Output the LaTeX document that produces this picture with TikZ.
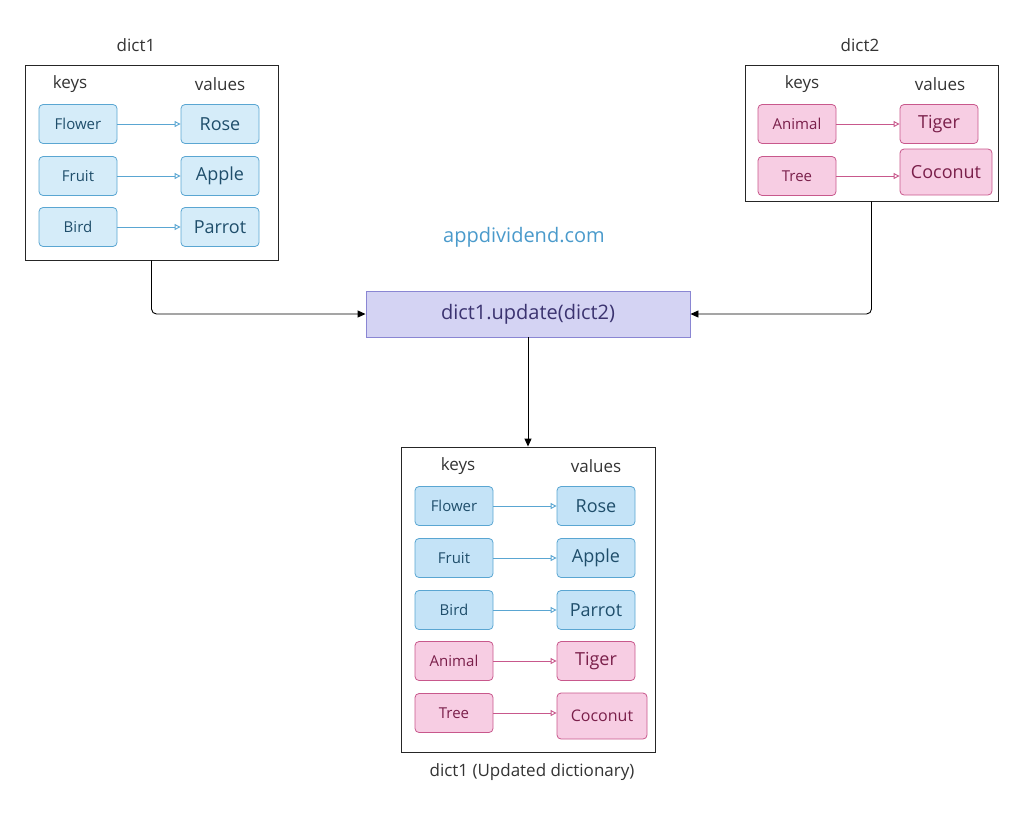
\documentclass[tikz,border=0pt]{standalone}
\usepackage{fontspec}
\setmainfont{Open Sans}
\usetikzlibrary{arrows.meta}
\definecolor{bfill}{HTML}{D5ECF9}
\definecolor{bfill2}{HTML}{C4E3F7}
\definecolor{bdraw}{HTML}{5AA6D2}
\definecolor{btext}{HTML}{1F4E6B}
\definecolor{pfill}{HTML}{F7CDE3}
\definecolor{pdraw}{HTML}{C8588C}
\definecolor{ptext}{HTML}{7A1F4A}
\definecolor{ufill}{HTML}{D4D3F3}
\definecolor{udraw}{HTML}{8A86D3}
\definecolor{utext}{HTML}{3B3370}
\definecolor{site}{HTML}{4A9ACB}
\begin{document}
\begin{tikzpicture}[x=1pt,y=-1pt,
  frame/.style={draw=black!85,line width=0.9pt},
  kb/.style={draw=bdraw,fill=bfill,rounded corners=4pt,text=btext,minimum width=78pt,minimum height=39pt,font=\fontsize{15}{17}\selectfont,inner sep=0pt,line width=0.8pt},
  vb/.style={kb,font=\fontsize{18}{20}\selectfont},
  pk/.style={kb,draw=pdraw,fill=pfill,text=ptext},
  pv/.style={vb,draw=pdraw,fill=pfill,text=ptext},
  ba/.style={draw=bdraw,line width=0.9pt,-{Triangle[open,length=6pt,width=6pt]}},
  pa/.style={ba,draw=pdraw},
  hd/.style={font=\fontsize{17}{19}\selectfont,text=black!80},
  con/.style={draw=black,line width=0.9pt,rounded corners=5pt,-{Triangle[length=8pt,width=7pt]}}]
\useasboundingbox (0,0) rectangle (1024,815);
% dict1
\node[hd] (l1) at (136,45) {dict1};
\node[frame,minimum width=253pt,minimum height=195pt,inner sep=0pt] (d1) at (151.5,162.5) {};
\node[hd] at (70,84) {keys};
\node[hd] at (220,84) {values};
\node[kb] (k1) at (78,124) {Flower};
\node[vb] (v1) at (220,124) {Rose};
\node[kb] (k2) at (78,176) {Fruit};
\node[vb] (v2) at (220,176) {Apple};
\node[kb] (k3) at (78,227) {Bird};
\node[vb] (v3) at (220,227) {Parrot};
\draw[ba] (k1) -- (v1); \draw[ba] (k2) -- (v2); \draw[ba] (k3) -- (v3);
% dict2
\node[hd] (l2) at (860,45) {dict2};
\node[frame,minimum width=253pt,minimum height=136pt,inner sep=0pt] (d2) at (871.5,133) {};
\node[hd] at (802,84) {keys};
\node[hd] at (940,84) {values};
\node[pk] (a1) at (797,124) {Animal};
\node[pv] (t1) at (939,124) {Tiger};
\node[pk] (a2) at (797,176) {Tree};
\node[pv,minimum width=92pt,minimum height=46pt] (t2) at (946,172) {Coconut};
\draw[pa] (a1) -- (t1); \draw[pa] (a2) -- (a2.east -| t2.west);
% site
\node[text=site,font=\fontsize{20}{22}\selectfont] (site) at (524,237) {appdividend.com};
% update
\node[draw=udraw,fill=ufill,text=utext,minimum width=324pt,minimum height=46pt,inner sep=0pt,line width=0.9pt,font=\fontsize{20}{22}\selectfont] (up) at (528,314) {dict1.update(dict2)};
\draw[con] (d1.south) |- (up.west);
\draw[con] (d2.south) |- (up.east);
% result
\node[frame,minimum width=254pt,minimum height=305pt,inner sep=0pt] (r) at (528,599.5) {};
\draw[con] (up.south) -- (r.north);
\node[hd] at (458,466) {keys};
\node[hd] at (596,466) {values};
\tikzset{kb/.append style={fill=bfill2}}
\node[kb] (rk1) at (454,506) {Flower};
\node[vb] (rv1) at (596,506) {Rose};
\node[kb] (rk2) at (454,558) {Fruit};
\node[vb] (rv2) at (596,558) {Apple};
\node[kb] (rk3) at (454,610) {Bird};
\node[vb] (rv3) at (596,610) {Parrot};
\node[pk] (rk4) at (454,661) {Animal};
\node[pv] (rv4) at (596,661) {Tiger};
\node[pk] (rk5) at (454,713) {Tree};
\node[pv,minimum width=90pt,minimum height=46pt,font=\fontsize{16}{18}\selectfont] (rv5) at (602,716) {Coconut};
\draw[ba] (rk1) -- (rv1); \draw[ba] (rk2) -- (rv2); \draw[ba] (rk3) -- (rv3);
\draw[pa] (rk4) -- (rv4); \draw[pa] (rk5) -- (rk5.east -| rv5.west);
\node[hd] (rl) at (532,772) {dict1 (Updated dictionary)};
\end{tikzpicture}
\end{document}
